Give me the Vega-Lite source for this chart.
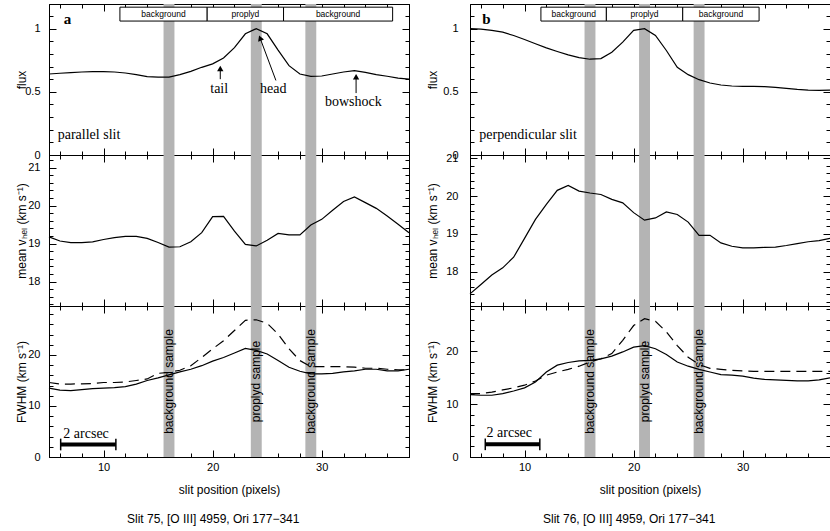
{
"$schema":"https://vega.github.io/schema/vega-lite/v6.json",
"background":"white",
"padding":{"left":14,"top":3,"right":3,"bottom":3},
"config":{
 "view":{"stroke":"black","strokeWidth":1},
 "font":"Liberation Sans",
 "axis":{"domainColor":"black","tickColor":"black","labelColor":"black","titleColor":"black","labelFont":"Liberation Sans","titleFont":"Liberation Sans","labelFontSize":11,"titleFontSize":12,"titleFontWeight":"normal","grid":false,"labelOverlap":false,"labelFlush":false,"labelBound":false,"zindex":1,"tickWidth":1,"domainWidth":1},
 "title":{"font":"Liberation Sans","fontSize":12,"fontWeight":"normal","color":"black"}
},
"datasets":{
 "slit75":[
  {"x":5,"flux":0.641,"vel":19.18,"fw":13.5,"fw2":14.6},
  {"x":6,"flux":0.647,"vel":19.07,"fw":13.1,"fw2":14.3},
  {"x":7,"flux":0.652,"vel":19.03,"fw":13.0,"fw2":14.3},
  {"x":8,"flux":0.657,"vel":19.03,"fw":13.2,"fw2":14.35},
  {"x":9,"flux":0.66,"vel":19.05,"fw":13.4,"fw2":14.4},
  {"x":10,"flux":0.66,"vel":19.11,"fw":13.5,"fw2":14.6},
  {"x":11,"flux":0.657,"vel":19.16,"fw":13.6,"fw2":14.6},
  {"x":12,"flux":0.649,"vel":19.19,"fw":13.8,"fw2":14.7},
  {"x":13,"flux":0.636,"vel":19.19,"fw":14.3,"fw2":15.0},
  {"x":14,"flux":0.62,"vel":19.14,"fw":15.0,"fw2":15.3},
  {"x":15,"flux":0.617,"vel":19.03,"fw":15.5,"fw2":16.4},
  {"x":16,"flux":0.617,"vel":18.91,"fw":16.1,"fw2":16.6},
  {"x":17,"flux":0.636,"vel":18.92,"fw":16.7,"fw2":17.0},
  {"x":18,"flux":0.662,"vel":19.05,"fw":17.2,"fw2":17.9},
  {"x":19,"flux":0.694,"vel":19.29,"fw":17.9,"fw2":19.5},
  {"x":20,"flux":0.721,"vel":19.71,"fw":18.8,"fw2":21.2},
  {"x":21,"flux":0.768,"vel":19.72,"fw":19.5,"fw2":22.8},
  {"x":22,"flux":0.85,"vel":19.33,"fw":20.4,"fw2":24.8},
  {"x":23,"flux":0.959,"vel":18.98,"fw":21.3,"fw2":26.8},
  {"x":24,"flux":1.0,"vel":18.94,"fw":20.9,"fw2":26.9},
  {"x":25,"flux":0.959,"vel":19.09,"fw":20.2,"fw2":26.2},
  {"x":26,"flux":0.83,"vel":19.27,"fw":18.9,"fw2":24.1},
  {"x":27,"flux":0.707,"vel":19.23,"fw":17.6,"fw2":21.2},
  {"x":28,"flux":0.641,"vel":19.23,"fw":16.8,"fw2":18.9},
  {"x":29,"flux":0.623,"vel":19.49,"fw":16.3,"fw2":17.7},
  {"x":30,"flux":0.625,"vel":19.64,"fw":16.3,"fw2":17.7},
  {"x":31,"flux":0.641,"vel":19.88,"fw":16.4,"fw2":17.7},
  {"x":32,"flux":0.657,"vel":20.11,"fw":16.7,"fw2":17.7},
  {"x":33,"flux":0.668,"vel":20.23,"fw":16.9,"fw2":17.6},
  {"x":34,"flux":0.654,"vel":20.08,"fw":17.2,"fw2":17.4},
  {"x":35,"flux":0.636,"vel":19.93,"fw":17.2,"fw2":17.4},
  {"x":36,"flux":0.623,"vel":19.73,"fw":16.9,"fw2":17.2},
  {"x":37,"flux":0.609,"vel":19.51,"fw":16.9,"fw2":17.1},
  {"x":38,"flux":0.601,"vel":19.29,"fw":17.2,"fw2":17.1}
 ],
 "slit76":[
  {"x":5,"flux":1.0,"vel":17.41,"fw":11.8,"fw2":12.0},
  {"x":6,"flux":0.996,"vel":17.66,"fw":11.7,"fw2":12.0},
  {"x":7,"flux":0.986,"vel":17.91,"fw":11.7,"fw2":12.3},
  {"x":8,"flux":0.972,"vel":18.1,"fw":12.0,"fw2":12.7},
  {"x":9,"flux":0.946,"vel":18.38,"fw":12.5,"fw2":13.1},
  {"x":10,"flux":0.914,"vel":18.88,"fw":13.1,"fw2":13.6},
  {"x":11,"flux":0.88,"vel":19.38,"fw":14.2,"fw2":14.4},
  {"x":12,"flux":0.848,"vel":19.78,"fw":16.1,"fw2":15.5},
  {"x":13,"flux":0.819,"vel":20.15,"fw":17.4,"fw2":16.1},
  {"x":14,"flux":0.792,"vel":20.28,"fw":17.9,"fw2":16.6},
  {"x":15,"flux":0.771,"vel":20.13,"fw":18.2,"fw2":17.2},
  {"x":16,"flux":0.758,"vel":20.08,"fw":18.3,"fw2":18.0},
  {"x":17,"flux":0.763,"vel":20.04,"fw":18.6,"fw2":18.6},
  {"x":18,"flux":0.813,"vel":19.91,"fw":19.1,"fw2":19.6},
  {"x":19,"flux":0.893,"vel":19.82,"fw":19.9,"fw2":22.1},
  {"x":20,"flux":0.986,"vel":19.56,"fw":20.8,"fw2":24.9},
  {"x":21,"flux":1.0,"vel":19.36,"fw":21.1,"fw2":26.2},
  {"x":22,"flux":0.946,"vel":19.42,"fw":20.5,"fw2":25.7},
  {"x":23,"flux":0.827,"vel":19.58,"fw":19.4,"fw2":23.7},
  {"x":24,"flux":0.694,"vel":19.51,"fw":18.0,"fw2":21.1},
  {"x":25,"flux":0.636,"vel":19.31,"fw":17.2,"fw2":18.9},
  {"x":26,"flux":0.596,"vel":18.96,"fw":16.6,"fw2":17.5},
  {"x":27,"flux":0.57,"vel":18.96,"fw":16.1,"fw2":16.8},
  {"x":28,"flux":0.554,"vel":18.76,"fw":15.6,"fw2":16.6},
  {"x":29,"flux":0.546,"vel":18.67,"fw":15.5,"fw2":16.4},
  {"x":30,"flux":0.543,"vel":18.63,"fw":15.3,"fw2":16.3},
  {"x":31,"flux":0.543,"vel":18.63,"fw":14.95,"fw2":16.2},
  {"x":32,"flux":0.541,"vel":18.64,"fw":14.7,"fw2":16.2},
  {"x":33,"flux":0.535,"vel":18.65,"fw":14.6,"fw2":16.2},
  {"x":34,"flux":0.527,"vel":18.69,"fw":14.5,"fw2":16.2},
  {"x":35,"flux":0.519,"vel":18.74,"fw":14.4,"fw2":16.2},
  {"x":36,"flux":0.514,"vel":18.79,"fw":14.4,"fw2":16.2},
  {"x":37,"flux":0.511,"vel":18.82,"fw":14.6,"fw2":16.2},
  {"x":38,"flux":0.514,"vel":18.88,"fw":15.0,"fw2":16.2}
 ],
 "bands75":[{"x1":15.5,"x2":16.5,"xc":16,"label":"background sample"},{"x1":23.5,"x2":24.5,"xc":24,"label":"proplyd sample"},{"x1":28.5,"x2":29.5,"xc":29,"label":"background sample"}],
 "bands76":[{"x1":15.5,"x2":16.5,"xc":16,"label":"background sample"},{"x1":20.5,"x2":21.5,"xc":21,"label":"proplyd sample"},{"x1":25.5,"x2":26.5,"xc":26,"label":"background sample"}],
 "boxes75":[{"x1":11.5,"x2":19.5,"xm":15.5,"label":"background"},{"x1":19.5,"x2":26.5,"xm":23,"label":"proplyd"},{"x1":26.5,"x2":36.5,"xm":31.5,"label":"background"}],
 "boxes76":[{"x1":11.5,"x2":17.5,"xm":14.5,"label":"background"},{"x1":17.5,"x2":24.5,"xm":21,"label":"proplyd"},{"x1":24.5,"x2":31.5,"xm":28,"label":"background"}],
 "notes75":[{"x":20.6,"y":0.525,"t":"tail"},{"x":25.55,"y":0.525,"t":"head"},{"x":32.9,"y":0.416,"t":"bowshock"}],
 "arrows75":[{"x":20.7,"y":0.6,"x2":20.7,"y2":0.685},{"x":25.8,"y":0.59,"x2":24.35,"y2":0.925},{"x":33.15,"y":0.49,"x2":33.15,"y2":0.62}],
 "bar75":[{"x1":6.07,"x2":11.13,"y":2.45}],
 "bar76":[{"x1":6.4,"x2":11.4,"y":2.4}]
},
"spacing":13,
"bounds":"full",
"hconcat":[
 {"title":{"text":"Slit 75, [O III] 4959, Ori 177−341","orient":"bottom","anchor":"middle","offset":18},
  "spacing":0,"bounds":"flush",
  "vconcat":[
   {"width":360,"height":151,"resolve":{"axis":{"x":"independent","y":"independent"}},
    "layer":[
     {"data":{"name":"bands75"},"mark":{"type":"rect","color":"#b4b4b4"},
      "encoding":{"x":{"field":"x1","type":"quantitative","scale":{"domain":[5,38],"nice":false,"zero":false},"axis":null},"x2":{"field":"x2"}}},
     {"data":{"name":"slit75"},"mark":{"type":"line","color":"black","strokeWidth":1.2},
      "encoding":{"x":{"field":"x","type":"quantitative","scale":{"domain":[5,38],"nice":false,"zero":false},
        "axis":{"orient":"bottom","values":[6,8,10,12,14,16,18,20,22,24,26,28,30,32,34,36,38],"labels":false,"title":null,"tickSize":{"condition":{"test":"datum.value % 10 === 0","value":-7},"value":-4}}},
       "y":{"field":"flux","type":"quantitative","scale":{"domain":[0,1.195],"nice":false,"zero":false},
        "axis":{"orient":"left","values":[0,0.1,0.2,0.3,0.4,0.5,0.6,0.7,0.8,0.9,1,1.1],"labelExpr":"abs(datum.value*2-round(datum.value*2))<0.01 ? '' + round(datum.value*2)/2 : ''","labelPadding":16,"title":"flux","titleX":-28,"titleBaseline":"middle","tickSize":{"condition":{"test":"abs(datum.value*2-round(datum.value*2))<0.01","value":-7},"value":-4}}}}},
     {"data":{"name":"slit75"},"mark":{"type":"line","opacity":0},
      "encoding":{"x":{"field":"x","type":"quantitative","scale":{"domain":[5,38],"nice":false,"zero":false},
        "axis":{"orient":"top","values":[6,8,10,12,14,16,18,20,22,24,26,28,30,32,34,36,38],"labels":false,"title":null,"tickSize":{"condition":{"test":"datum.value % 10 === 0","value":-7},"value":-4}}},
       "y":{"field":"flux","type":"quantitative","scale":{"domain":[0,1.195],"nice":false,"zero":false},
        "axis":{"orient":"right","values":[0,0.1,0.2,0.3,0.4,0.5,0.6,0.7,0.8,0.9,1,1.1],"labels":false,"title":null,"tickSize":{"condition":{"test":"abs(datum.value*2-round(datum.value*2))<0.01","value":-7},"value":-4}}}}},
     {"data":{"name":"boxes75"},"mark":{"type":"rect","fill":"white","stroke":"black","strokeWidth":1},
      "encoding":{"x":{"field":"x1","type":"quantitative","scale":{"domain":[5,38],"nice":false,"zero":false},"axis":null},"x2":{"field":"x2"},
       "y":{"datum":1.06,"type":"quantitative","scale":{"domain":[0,1.195],"nice":false,"zero":false},"axis":null},"y2":{"datum":1.17}}},
     {"data":{"name":"boxes75"},"mark":{"type":"text","fontSize":8.5,"font":"Liberation Sans","align":"center","baseline":"middle","color":"black"},
      "encoding":{"x":{"field":"xm","type":"quantitative","scale":{"domain":[5,38],"nice":false,"zero":false},"axis":null},
       "y":{"datum":1.115,"type":"quantitative","scale":{"domain":[0,1.195],"nice":false,"zero":false},"axis":null},"text":{"field":"label"}}},
     {"data":{"name":"notes75"},"mark":{"type":"text","fontSize":14,"font":"Liberation Serif","align":"center","baseline":"middle","color":"black"},
      "encoding":{"x":{"field":"x","type":"quantitative","scale":{"domain":[5,38],"nice":false,"zero":false},"axis":null},
       "y":{"field":"y","type":"quantitative","scale":{"domain":[0,1.195],"nice":false,"zero":false},"axis":null},"text":{"field":"t"}}},
     {"data":{"name":"arrows75"},"mark":{"type":"rule","color":"black","strokeWidth":1},
      "encoding":{"x":{"field":"x","type":"quantitative","scale":{"domain":[5,38],"nice":false,"zero":false},"axis":null},"x2":{"field":"x2"},
       "y":{"field":"y","type":"quantitative","scale":{"domain":[0,1.195],"nice":false,"zero":false},"axis":null},"y2":{"field":"y2"}}},
     {"data":{"name":"arrows75"},"transform":[{"filter":"datum.x === datum.x2"}],"mark":{"type":"point","shape":"triangle-up","filled":true,"color":"black","opacity":1,"size":40},
      "encoding":{"x":{"field":"x2","type":"quantitative","scale":{"domain":[5,38],"nice":false,"zero":false},"axis":null},
       "y":{"field":"y2","type":"quantitative","scale":{"domain":[0,1.195],"nice":false,"zero":false},"axis":null}}},
     {"data":{"name":"arrows75"},"transform":[{"filter":"datum.x !== datum.x2"}],"mark":{"type":"point","shape":"triangle-up","filled":true,"color":"black","opacity":1,"size":40,"angle":339},
      "encoding":{"x":{"field":"x2","type":"quantitative","scale":{"domain":[5,38],"nice":false,"zero":false},"axis":null},
       "y":{"field":"y2","type":"quantitative","scale":{"domain":[0,1.195],"nice":false,"zero":false},"axis":null}}},
     {"data":{"values":[{}]},"mark":{"type":"text","text":"a","fontSize":15,"fontWeight":"bold","font":"Liberation Serif","align":"center","baseline":"middle","color":"black"},
      "encoding":{"x":{"datum":6.7,"type":"quantitative","scale":{"domain":[5,38],"nice":false,"zero":false},"axis":null},
       "y":{"datum":1.08,"type":"quantitative","scale":{"domain":[0,1.195],"nice":false,"zero":false},"axis":null}}},
     {"data":{"values":[{}]},"mark":{"type":"text","text":"parallel slit","fontSize":14,"font":"Liberation Serif","align":"left","baseline":"middle","color":"black"},
      "encoding":{"x":{"datum":5.8,"type":"quantitative","scale":{"domain":[5,38],"nice":false,"zero":false},"axis":null},
       "y":{"datum":0.155,"type":"quantitative","scale":{"domain":[0,1.195],"nice":false,"zero":false},"axis":null}}}
    ]},
   {"width":360,"height":151,"resolve":{"axis":{"x":"independent","y":"independent"}},
    "layer":[
     {"data":{"name":"bands75"},"mark":{"type":"rect","color":"#b4b4b4"},
      "encoding":{"x":{"field":"x1","type":"quantitative","scale":{"domain":[5,38],"nice":false,"zero":false},"axis":null},"x2":{"field":"x2"}}},
     {"data":{"name":"slit75"},"mark":{"type":"line","color":"black","strokeWidth":1.2},
      "encoding":{"x":{"field":"x","type":"quantitative","scale":{"domain":[5,38],"nice":false,"zero":false},
        "axis":{"orient":"bottom","values":[6,8,10,12,14,16,18,20,22,24,26,28,30,32,34,36,38],"labels":false,"title":null,"tickSize":{"condition":{"test":"datum.value % 10 === 0","value":-7},"value":-4}}},
       "y":{"field":"vel","type":"quantitative","scale":{"domain":[17.36,21.334],"nice":false,"zero":false},
        "axis":{"orient":"left","values":[17.4,17.6,17.8,18,18.2,18.4,18.6,18.8,19,19.2,19.4,19.6,19.8,20,20.2,20.4,20.6,20.8,21,21.2],"labelExpr":"abs(datum.value-round(datum.value))<0.01 ? '' + round(datum.value) : ''","labelPadding":16,"title":"mean vₕₑₗ (km s⁻¹)","titleX":-28,"titleBaseline":"middle","tickSize":{"condition":{"test":"abs(datum.value-round(datum.value))<0.01","value":-7},"value":-4}}}}},
     {"data":{"name":"slit75"},"mark":{"type":"line","opacity":0},
      "encoding":{"x":{"field":"x","type":"quantitative","scale":{"domain":[5,38],"nice":false,"zero":false},
        "axis":{"orient":"top","values":[6,8,10,12,14,16,18,20,22,24,26,28,30,32,34,36,38],"labels":false,"title":null,"tickSize":{"condition":{"test":"datum.value % 10 === 0","value":-7},"value":-4}}},
       "y":{"field":"vel","type":"quantitative","scale":{"domain":[17.36,21.334],"nice":false,"zero":false},
        "axis":{"orient":"right","values":[17.4,17.6,17.8,18,18.2,18.4,18.6,18.8,19,19.2,19.4,19.6,19.8,20,20.2,20.4,20.6,20.8,21,21.2],"labels":false,"title":null,"tickSize":{"condition":{"test":"abs(datum.value-round(datum.value))<0.01","value":-7},"value":-4}}}}}
    ]},
   {"width":360,"height":151,"resolve":{"axis":{"x":"independent","y":"independent"}},
    "layer":[
     {"data":{"name":"bands75"},"mark":{"type":"rect","color":"#b4b4b4"},
      "encoding":{"x":{"field":"x1","type":"quantitative","scale":{"domain":[5,38],"nice":false,"zero":false},"axis":null},"x2":{"field":"x2"}}},
     {"data":{"name":"slit75"},"mark":{"type":"line","color":"black","strokeWidth":1.2},
      "encoding":{"x":{"field":"x","type":"quantitative","scale":{"domain":[5,38],"nice":false,"zero":false},
        "axis":{"orient":"bottom","values":[6,8,10,12,14,16,18,20,22,24,26,28,30,32,34,36,38],"labelExpr":"datum.value % 10 === 0 ? datum.label : ''","labelPadding":11,"title":"slit position (pixels)","titleY":32,"titleBaseline":"middle","tickSize":{"condition":{"test":"datum.value % 10 === 0","value":-7},"value":-4}}},
       "y":{"field":"fw","type":"quantitative","scale":{"domain":[0,29.6],"nice":false,"zero":false},
        "axis":{"orient":"left","values":[0,2,4,6,8,10,12,14,16,18,20,22,24,26,28],"labelExpr":"datum.value % 10 === 0 ? datum.label : ''","labelPadding":16,"title":"FWHM (km s⁻¹)","titleX":-28,"titleBaseline":"middle","tickSize":{"condition":{"test":"datum.value % 10 === 0","value":-7},"value":-4}}}}},
     {"data":{"name":"slit75"},"mark":{"type":"line","opacity":0},
      "encoding":{"x":{"field":"x","type":"quantitative","scale":{"domain":[5,38],"nice":false,"zero":false},
        "axis":{"orient":"top","values":[6,8,10,12,14,16,18,20,22,24,26,28,30,32,34,36,38],"labels":false,"title":null,"tickSize":{"condition":{"test":"datum.value % 10 === 0","value":-7},"value":-4}}},
       "y":{"field":"fw","type":"quantitative","scale":{"domain":[0,29.6],"nice":false,"zero":false},
        "axis":{"orient":"right","values":[0,2,4,6,8,10,12,14,16,18,20,22,24,26,28],"labels":false,"title":null,"tickSize":{"condition":{"test":"datum.value % 10 === 0","value":-7},"value":-4}}}}},
     {"data":{"name":"slit75"},"mark":{"type":"line","color":"black","strokeWidth":1.2,"strokeDash":[10,6]},
      "encoding":{"x":{"field":"x","type":"quantitative","scale":{"domain":[5,38],"nice":false,"zero":false},"axis":null},
       "y":{"field":"fw2","type":"quantitative","scale":{"domain":[0,29.6],"nice":false,"zero":false},"axis":null}}},
     {"data":{"name":"bands75"},"mark":{"type":"text","angle":270,"fontSize":12,"font":"Liberation Sans","align":"center","baseline":"middle","color":"black"},
      "encoding":{"x":{"field":"xc","type":"quantitative","scale":{"domain":[5,38],"nice":false,"zero":false},"axis":null},
       "y":{"datum":14.8,"type":"quantitative","scale":{"domain":[0,29.6],"nice":false,"zero":false},"axis":null},"text":{"field":"label"}}},
     {"data":{"name":"bar75"},"mark":{"type":"rule","color":"black","strokeWidth":4},
      "encoding":{"x":{"field":"x1","type":"quantitative","scale":{"domain":[5,38],"nice":false,"zero":false},"axis":null},"x2":{"field":"x2"},
       "y":{"field":"y","type":"quantitative","scale":{"domain":[0,29.6],"nice":false,"zero":false},"axis":null}}},
     {"data":{"name":"bar75"},"mark":{"type":"rule","color":"black","strokeWidth":1.5},
      "encoding":{"x":{"field":"x1","type":"quantitative","scale":{"domain":[5,38],"nice":false,"zero":false},"axis":null},
       "y":{"datum":1.3,"type":"quantitative","scale":{"domain":[0,29.6],"nice":false,"zero":false},"axis":null},"y2":{"datum":3.6}}},
     {"data":{"name":"bar75"},"mark":{"type":"rule","color":"black","strokeWidth":1.5},
      "encoding":{"x":{"field":"x2","type":"quantitative","scale":{"domain":[5,38],"nice":false,"zero":false},"axis":null},
       "y":{"datum":1.3,"type":"quantitative","scale":{"domain":[0,29.6],"nice":false,"zero":false},"axis":null},"y2":{"datum":3.6}}},
     {"data":{"name":"bar75"},"mark":{"type":"text","text":"2 arcsec","fontSize":14,"font":"Liberation Serif","align":"center","baseline":"middle","color":"black"},
      "encoding":{"x":{"datum":8.4,"type":"quantitative","scale":{"domain":[5,38],"nice":false,"zero":false},"axis":null},
       "y":{"datum":4.6,"type":"quantitative","scale":{"domain":[0,29.6],"nice":false,"zero":false},"axis":null}}}
    ]}
  ]},
 {"title":{"text":"Slit 76, [O III] 4959, Ori 177−341","orient":"bottom","anchor":"middle","offset":18},
  "spacing":0,"bounds":"flush",
  "vconcat":[
   {"width":360,"height":151,"resolve":{"axis":{"x":"independent","y":"independent"}},
    "layer":[
     {"data":{"name":"bands76"},"mark":{"type":"rect","color":"#b4b4b4"},
      "encoding":{"x":{"field":"x1","type":"quantitative","scale":{"domain":[5,38],"nice":false,"zero":false},"axis":null},"x2":{"field":"x2"}}},
     {"data":{"name":"slit76"},"mark":{"type":"line","color":"black","strokeWidth":1.2},
      "encoding":{"x":{"field":"x","type":"quantitative","scale":{"domain":[5,38],"nice":false,"zero":false},
        "axis":{"orient":"bottom","values":[6,8,10,12,14,16,18,20,22,24,26,28,30,32,34,36,38],"labels":false,"title":null,"tickSize":{"condition":{"test":"datum.value % 10 === 0","value":-7},"value":-4}}},
       "y":{"field":"flux","type":"quantitative","scale":{"domain":[0,1.195],"nice":false,"zero":false},
        "axis":{"orient":"left","values":[0,0.1,0.2,0.3,0.4,0.5,0.6,0.7,0.8,0.9,1,1.1],"labelExpr":"abs(datum.value*2-round(datum.value*2))<0.01 ? '' + round(datum.value*2)/2 : ''","labelPadding":19,"title":"flux","titleX":-38,"titleBaseline":"middle","tickSize":{"condition":{"test":"abs(datum.value*2-round(datum.value*2))<0.01","value":-7},"value":-4}}}}},
     {"data":{"name":"slit76"},"mark":{"type":"line","opacity":0},
      "encoding":{"x":{"field":"x","type":"quantitative","scale":{"domain":[5,38],"nice":false,"zero":false},
        "axis":{"orient":"top","values":[6,8,10,12,14,16,18,20,22,24,26,28,30,32,34,36,38],"labels":false,"title":null,"tickSize":{"condition":{"test":"datum.value % 10 === 0","value":-7},"value":-4}}},
       "y":{"field":"flux","type":"quantitative","scale":{"domain":[0,1.195],"nice":false,"zero":false},
        "axis":{"orient":"right","values":[0,0.1,0.2,0.3,0.4,0.5,0.6,0.7,0.8,0.9,1,1.1],"labels":false,"title":null,"tickSize":{"condition":{"test":"abs(datum.value*2-round(datum.value*2))<0.01","value":-7},"value":-4}}}}},
     {"data":{"name":"boxes76"},"mark":{"type":"rect","fill":"white","stroke":"black","strokeWidth":1},
      "encoding":{"x":{"field":"x1","type":"quantitative","scale":{"domain":[5,38],"nice":false,"zero":false},"axis":null},"x2":{"field":"x2"},
       "y":{"datum":1.06,"type":"quantitative","scale":{"domain":[0,1.195],"nice":false,"zero":false},"axis":null},"y2":{"datum":1.17}}},
     {"data":{"name":"boxes76"},"mark":{"type":"text","fontSize":8.5,"font":"Liberation Sans","align":"center","baseline":"middle","color":"black"},
      "encoding":{"x":{"field":"xm","type":"quantitative","scale":{"domain":[5,38],"nice":false,"zero":false},"axis":null},
       "y":{"datum":1.115,"type":"quantitative","scale":{"domain":[0,1.195],"nice":false,"zero":false},"axis":null},"text":{"field":"label"}}},
     {"data":{"values":[{}]},"mark":{"type":"text","text":"b","fontSize":15,"fontWeight":"bold","font":"Liberation Serif","align":"center","baseline":"middle","color":"black"},
      "encoding":{"x":{"datum":6.5,"type":"quantitative","scale":{"domain":[5,38],"nice":false,"zero":false},"axis":null},
       "y":{"datum":1.08,"type":"quantitative","scale":{"domain":[0,1.195],"nice":false,"zero":false},"axis":null}}},
     {"data":{"values":[{}]},"mark":{"type":"text","text":"perpendicular slit","fontSize":14,"font":"Liberation Serif","align":"left","baseline":"middle","color":"black"},
      "encoding":{"x":{"datum":5.85,"type":"quantitative","scale":{"domain":[5,38],"nice":false,"zero":false},"axis":null},
       "y":{"datum":0.155,"type":"quantitative","scale":{"domain":[0,1.195],"nice":false,"zero":false},"axis":null}}}
    ]},
   {"width":360,"height":151,"resolve":{"axis":{"x":"independent","y":"independent"}},
    "layer":[
     {"data":{"name":"bands76"},"mark":{"type":"rect","color":"#b4b4b4"},
      "encoding":{"x":{"field":"x1","type":"quantitative","scale":{"domain":[5,38],"nice":false,"zero":false},"axis":null},"x2":{"field":"x2"}}},
     {"data":{"name":"slit76"},"mark":{"type":"line","color":"black","strokeWidth":1.2},
      "encoding":{"x":{"field":"x","type":"quantitative","scale":{"domain":[5,38],"nice":false,"zero":false},
        "axis":{"orient":"bottom","values":[6,8,10,12,14,16,18,20,22,24,26,28,30,32,34,36,38],"labels":false,"title":null,"tickSize":{"condition":{"test":"datum.value % 10 === 0","value":-7},"value":-4}}},
       "y":{"field":"vel","type":"quantitative","scale":{"domain":[17.09,21.085],"nice":false,"zero":false},
        "axis":{"orient":"left","values":[17.2,17.4,17.6,17.8,18,18.2,18.4,18.6,18.8,19,19.2,19.4,19.6,19.8,20,20.2,20.4,20.6,20.8,21],"labelExpr":"abs(datum.value-round(datum.value))<0.01 ? '' + round(datum.value) : ''","labelPadding":19,"title":"mean vₕₑₗ (km s⁻¹)","titleX":-38,"titleBaseline":"middle","tickSize":{"condition":{"test":"abs(datum.value-round(datum.value))<0.01","value":-7},"value":-4}}}}},
     {"data":{"name":"slit76"},"mark":{"type":"line","opacity":0},
      "encoding":{"x":{"field":"x","type":"quantitative","scale":{"domain":[5,38],"nice":false,"zero":false},
        "axis":{"orient":"top","values":[6,8,10,12,14,16,18,20,22,24,26,28,30,32,34,36,38],"labels":false,"title":null,"tickSize":{"condition":{"test":"datum.value % 10 === 0","value":-7},"value":-4}}},
       "y":{"field":"vel","type":"quantitative","scale":{"domain":[17.09,21.085],"nice":false,"zero":false},
        "axis":{"orient":"right","values":[17.2,17.4,17.6,17.8,18,18.2,18.4,18.6,18.8,19,19.2,19.4,19.6,19.8,20,20.2,20.4,20.6,20.8,21],"labels":false,"title":null,"tickSize":{"condition":{"test":"abs(datum.value-round(datum.value))<0.01","value":-7},"value":-4}}}}}
    ]},
   {"width":360,"height":151,"resolve":{"axis":{"x":"independent","y":"independent"}},
    "layer":[
     {"data":{"name":"bands76"},"mark":{"type":"rect","color":"#b4b4b4"},
      "encoding":{"x":{"field":"x1","type":"quantitative","scale":{"domain":[5,38],"nice":false,"zero":false},"axis":null},"x2":{"field":"x2"}}},
     {"data":{"name":"slit76"},"mark":{"type":"line","color":"black","strokeWidth":1.2},
      "encoding":{"x":{"field":"x","type":"quantitative","scale":{"domain":[5,38],"nice":false,"zero":false},
        "axis":{"orient":"bottom","values":[6,8,10,12,14,16,18,20,22,24,26,28,30,32,34,36,38],"labelExpr":"datum.value % 10 === 0 ? datum.label : ''","labelPadding":11,"title":"slit position (pixels)","titleY":32,"titleBaseline":"middle","tickSize":{"condition":{"test":"datum.value % 10 === 0","value":-7},"value":-4}}},
       "y":{"field":"fw","type":"quantitative","scale":{"domain":[0,28.6],"nice":false,"zero":false},
        "axis":{"orient":"left","values":[0,2,4,6,8,10,12,14,16,18,20,22,24,26,28],"labelExpr":"datum.value % 10 === 0 ? datum.label : ''","labelPadding":19,"title":"FWHM (km s⁻¹)","titleX":-38,"titleBaseline":"middle","tickSize":{"condition":{"test":"datum.value % 10 === 0","value":-7},"value":-4}}}}},
     {"data":{"name":"slit76"},"mark":{"type":"line","opacity":0},
      "encoding":{"x":{"field":"x","type":"quantitative","scale":{"domain":[5,38],"nice":false,"zero":false},
        "axis":{"orient":"top","values":[6,8,10,12,14,16,18,20,22,24,26,28,30,32,34,36,38],"labels":false,"title":null,"tickSize":{"condition":{"test":"datum.value % 10 === 0","value":-7},"value":-4}}},
       "y":{"field":"fw","type":"quantitative","scale":{"domain":[0,28.6],"nice":false,"zero":false},
        "axis":{"orient":"right","values":[0,2,4,6,8,10,12,14,16,18,20,22,24,26,28],"labels":false,"title":null,"tickSize":{"condition":{"test":"datum.value % 10 === 0","value":-7},"value":-4}}}}},
     {"data":{"name":"slit76"},"mark":{"type":"line","color":"black","strokeWidth":1.2,"strokeDash":[10,6]},
      "encoding":{"x":{"field":"x","type":"quantitative","scale":{"domain":[5,38],"nice":false,"zero":false},"axis":null},
       "y":{"field":"fw2","type":"quantitative","scale":{"domain":[0,28.6],"nice":false,"zero":false},"axis":null}}},
     {"data":{"name":"bands76"},"mark":{"type":"text","angle":270,"fontSize":12,"font":"Liberation Sans","align":"center","baseline":"middle","color":"black"},
      "encoding":{"x":{"field":"xc","type":"quantitative","scale":{"domain":[5,38],"nice":false,"zero":false},"axis":null},
       "y":{"datum":14.3,"type":"quantitative","scale":{"domain":[0,28.6],"nice":false,"zero":false},"axis":null},"text":{"field":"label"}}},
     {"data":{"name":"bar76"},"mark":{"type":"rule","color":"black","strokeWidth":4},
      "encoding":{"x":{"field":"x1","type":"quantitative","scale":{"domain":[5,38],"nice":false,"zero":false},"axis":null},"x2":{"field":"x2"},
       "y":{"field":"y","type":"quantitative","scale":{"domain":[0,28.6],"nice":false,"zero":false},"axis":null}}},
     {"data":{"name":"bar76"},"mark":{"type":"rule","color":"black","strokeWidth":1.5},
      "encoding":{"x":{"field":"x1","type":"quantitative","scale":{"domain":[5,38],"nice":false,"zero":false},"axis":null},
       "y":{"datum":1.3,"type":"quantitative","scale":{"domain":[0,28.6],"nice":false,"zero":false},"axis":null},"y2":{"datum":3.5}}},
     {"data":{"name":"bar76"},"mark":{"type":"rule","color":"black","strokeWidth":1.5},
      "encoding":{"x":{"field":"x2","type":"quantitative","scale":{"domain":[5,38],"nice":false,"zero":false},"axis":null},
       "y":{"datum":1.3,"type":"quantitative","scale":{"domain":[0,28.6],"nice":false,"zero":false},"axis":null},"y2":{"datum":3.5}}},
     {"data":{"name":"bar76"},"mark":{"type":"text","text":"2 arcsec","fontSize":14,"font":"Liberation Serif","align":"center","baseline":"middle","color":"black"},
      "encoding":{"x":{"datum":8.6,"type":"quantitative","scale":{"domain":[5,38],"nice":false,"zero":false},"axis":null},
       "y":{"datum":4.5,"type":"quantitative","scale":{"domain":[0,28.6],"nice":false,"zero":false},"axis":null}}}
    ]}
  ]}
]
}
